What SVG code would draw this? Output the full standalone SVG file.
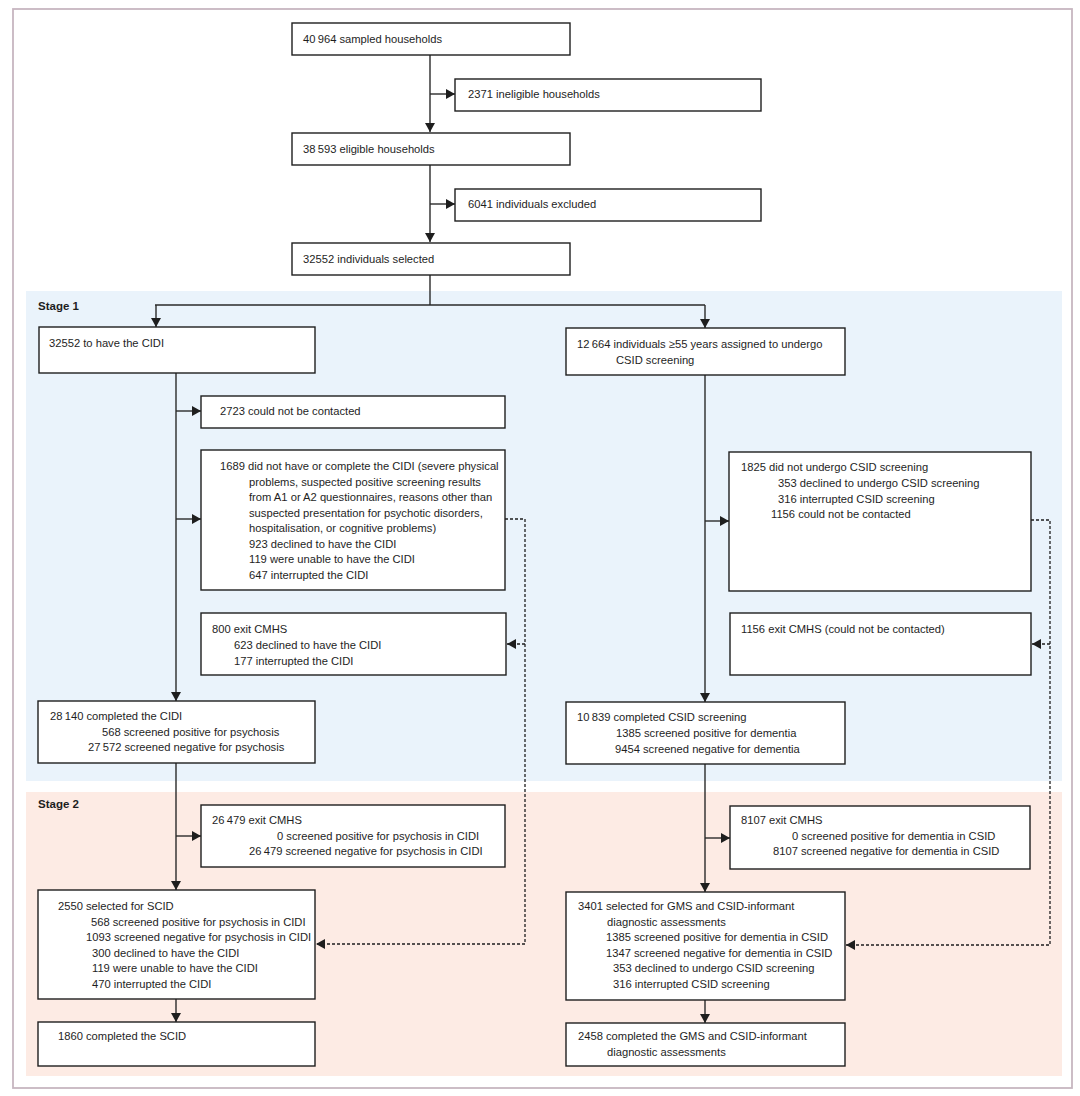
<svg xmlns="http://www.w3.org/2000/svg" width="1080" height="1096" viewBox="0 0 1080 1096">
<style>
  text { font-family: "Liberation Sans", Arial, sans-serif; font-size: 11.2px; fill: #1e1e1e; }
  .stage { font-weight: bold; font-size: 11.5px; }
  .box { fill: #ffffff; stroke: #1e1e1e; stroke-width: 1.4; }
  .ln { fill: none; stroke: #2a2a2a; stroke-width: 1.4; }
  .dash { fill: none; stroke: #1e1e1e; stroke-width: 1.3; stroke-dasharray: 3 2; }
</style>
<defs>
  <marker id="ah" markerUnits="userSpaceOnUse" markerWidth="9" markerHeight="10" refX="9" refY="5" orient="auto" viewBox="0 0 9 10">
    <path d="M0,0 L9,5 L0,10 z" fill="#1e1e1e"/>
  </marker>
</defs>
<rect x="0" y="0" width="1080" height="1096" fill="#ffffff"/>
<rect x="13" y="9" width="1059" height="1079" fill="#ffffff" stroke="#c7b6c0" stroke-width="1.8"/>
<rect id="stage1-panel" x="26" y="291" width="1036" height="490" fill="#eaf3fb"/>
<rect id="stage2-panel" x="26" y="792" width="1036" height="284" fill="#fdebe4"/>
<text class="stage" x="38" y="310">Stage 1</text>
<text class="stage" x="38" y="808">Stage 2</text>

<g id="connectors">
  <path class="ln" d="M430,55 V132" marker-end="url(#ah)"/>
  <path class="ln" d="M430,94 H455" marker-end="url(#ah)"/>
  <path class="ln" d="M430,165 V242" marker-end="url(#ah)"/>
  <path class="ln" d="M430,204 H455" marker-end="url(#ah)"/>
  <path class="ln" d="M430,275 V305"/>
  <path class="ln" d="M155,305 H705"/>
  <path class="ln" d="M156,305 V327" marker-end="url(#ah)"/>
  <path class="ln" d="M705,305 V328" marker-end="url(#ah)"/>
  <path class="ln" d="M176,373 V701" marker-end="url(#ah)"/>
  <path class="ln" d="M176,411 H201" marker-end="url(#ah)"/>
  <path class="ln" d="M176,519 H201" marker-end="url(#ah)"/>
  <path class="dash" d="M505,519 H525 V944 H316" marker-end="url(#ah)"/>
  <path class="dash" d="M525,644 H507" marker-end="url(#ah)"/>
  <path class="ln" d="M176,763 V890" marker-end="url(#ah)"/>
  <path class="ln" d="M176,836 H201" marker-end="url(#ah)"/>
  <path class="ln" d="M176,999 V1022" marker-end="url(#ah)"/>
  <path class="ln" d="M705,375 V702" marker-end="url(#ah)"/>
  <path class="ln" d="M705,521 H729" marker-end="url(#ah)"/>
  <path class="dash" d="M1031,520 H1050 V945 H846" marker-end="url(#ah)"/>
  <path class="dash" d="M1050,644 H1032" marker-end="url(#ah)"/>
  <path class="ln" d="M705,764 V892" marker-end="url(#ah)"/>
  <path class="ln" d="M705,838 H730" marker-end="url(#ah)"/>
  <path class="ln" d="M705,1000 V1023" marker-end="url(#ah)"/>
</g>

<g id="n-sampled">
  <rect class="box" x="292" y="23" width="278" height="32"/>
  <text x="303" y="43">40&#8201;964 sampled households</text>
</g>
<g id="n-ineligible">
  <rect class="box" x="455" y="79" width="306" height="32"/>
  <text x="468" y="98">2371 ineligible households</text>
</g>
<g id="n-eligible">
  <rect class="box" x="292" y="133" width="278" height="32"/>
  <text x="303" y="153">38&#8201;593 eligible households</text>
</g>
<g id="n-excluded">
  <rect class="box" x="455" y="189" width="306" height="32"/>
  <text x="468" y="208">6041 individuals excluded</text>
</g>
<g id="n-selected">
  <rect class="box" x="292" y="243" width="278" height="32"/>
  <text x="303" y="263">32552 individuals selected</text>
</g>

<g id="n-cidi">
  <rect class="box" x="39" y="327" width="276" height="46"/>
  <text x="49" y="347">32552 to have the CIDI</text>
</g>
<g id="n-csid">
  <rect class="box" x="566" y="328" width="279" height="47"/>
  <text x="577" y="348">12&#8201;664 individuals ≥55 years assigned to undergo</text>
  <text x="616" y="364">CSID screening</text>
</g>
<g id="n-2723">
  <rect class="box" x="201" y="396" width="304" height="32"/>
  <text x="220" y="415">2723 could not be contacted</text>
</g>
<g id="n-1689">
  <rect class="box" x="201" y="450" width="304" height="140"/>
  <text x="220" y="470">1689 did not have or complete the CIDI (severe physical</text>
  <text x="249" y="486">problems, suspected positive screening results</text>
  <text x="249" y="501">from A1 or A2 questionnaires, reasons other than</text>
  <text x="249" y="517">suspected presentation for psychotic disorders,</text>
  <text x="249" y="532">hospitalisation, or cognitive problems)</text>
  <text x="249" y="548">923 declined to have the CIDI</text>
  <text x="249" y="563">119 were unable to have the CIDI</text>
  <text x="249" y="579">647 interrupted the CIDI</text>
</g>
<g id="n-1825">
  <rect class="box" x="729" y="452" width="302" height="139"/>
  <text x="741" y="471">1825 did not undergo CSID screening</text>
  <text x="778" y="487">353 declined to undergo CSID screening</text>
  <text x="778" y="503">316 interrupted CSID screening</text>
  <text x="771" y="518">1156 could not be contacted</text>
</g>
<g id="n-800">
  <rect class="box" x="201" y="613" width="305" height="62"/>
  <text x="212" y="633">800 exit CMHS</text>
  <text x="234" y="649">623 declined to have the CIDI</text>
  <text x="234" y="665">177 interrupted the CIDI</text>
</g>
<g id="n-1156">
  <rect class="box" x="730" y="613" width="301" height="62"/>
  <text x="741" y="633">1156 exit CMHS (could not be contacted)</text>
</g>
<g id="n-28140">
  <rect class="box" x="38" y="701" width="277" height="62"/>
  <text x="50" y="720">28&#8201;140 completed the CIDI</text>
  <text x="102" y="736">568 screened positive for psychosis</text>
  <text x="88" y="751">27&#8201;572 screened negative for psychosis</text>
</g>
<g id="n-10839">
  <rect class="box" x="566" y="702" width="279" height="62"/>
  <text x="577" y="721">10&#8201;839 completed CSID screening</text>
  <text x="616" y="737">1385 screened positive for dementia</text>
  <text x="615" y="753">9454 screened negative for dementia</text>
</g>

<g id="n-26479">
  <rect class="box" x="201" y="805" width="304" height="62"/>
  <text x="212" y="824">26&#8201;479 exit CMHS</text>
  <text x="277" y="840">0 screened positive for psychosis in CIDI</text>
  <text x="249" y="855">26&#8201;479 screened negative for psychosis in CIDI</text>
</g>
<g id="n-8107">
  <rect class="box" x="730" y="806" width="300" height="63"/>
  <text x="741" y="824">8107 exit CMHS</text>
  <text x="792" y="840">0 screened positive for dementia in CSID</text>
  <text x="773" y="855">8107 screened negative for dementia in CSID</text>
</g>
<g id="n-2550">
  <rect class="box" x="38" y="890" width="277" height="109"/>
  <text x="58" y="910">2550 selected for SCID</text>
  <text x="91" y="926">568 screened positive for psychosis in CIDI</text>
  <text x="86" y="941">1093 screened negative for psychosis in CIDI</text>
  <text x="92" y="957">300 declined to have the CIDI</text>
  <text x="92" y="972">119 were unable to have the CIDI</text>
  <text x="92" y="988">470 interrupted the CIDI</text>
</g>
<g id="n-3401">
  <rect class="box" x="566" y="892" width="279" height="108"/>
  <text x="578" y="910">3401 selected for GMS and CSID-informant</text>
  <text x="607" y="926">diagnostic assessments</text>
  <text x="606" y="941">1385 screened positive for dementia in CSID</text>
  <text x="606" y="957">1347 screened negative for dementia in CSID</text>
  <text x="613" y="972">353 declined to undergo CSID screening</text>
  <text x="613" y="988">316 interrupted CSID screening</text>
</g>
<g id="n-1860">
  <rect class="box" x="38" y="1022" width="277" height="44"/>
  <text x="58" y="1040">1860 completed the SCID</text>
</g>
<g id="n-2458">
  <rect class="box" x="566" y="1023" width="279" height="43"/>
  <text x="578" y="1040">2458 completed the GMS and CSID-informant</text>
  <text x="607" y="1056">diagnostic assessments</text>
</g>
</svg>
